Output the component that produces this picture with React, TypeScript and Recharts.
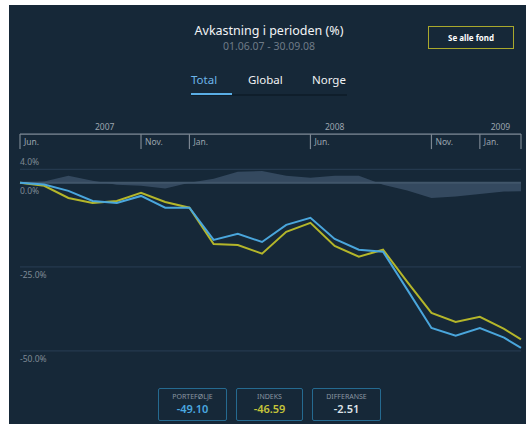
import React from 'react';
import { ComposedChart, Line, Area, XAxis, YAxis, CartesianGrid, ReferenceLine } from 'recharts';

// month index from Jun 2007 (0) to mid-Feb 2009 (20.7)
const monthIdx = [0, 1, 2, 3, 4, 5, 6, 7, 8, 9, 10, 11, 12, 13, 14, 15, 16, 17, 18, 19, 20, 20.7];
const portfolio = [0, -0.5, -2.4, -5.4, -6.0, -3.9, -7.4, -7.4, -17.0, -15.2, -17.6, -12.5, -10.4, -16.7, -19.9, -20.5, -31.8, -43.2, -45.5, -43.2, -46.1, -49.1];
const indeks = [0, -0.9, -4.5, -6.0, -5.4, -3.0, -5.7, -7.4, -18.2, -18.5, -21.1, -14.6, -11.9, -18.8, -22.0, -19.9, -29.5, -38.7, -41.4, -39.9, -43.5, -46.6];
const differanse = [0, 0.4, 2.1, 0.6, -0.6, -0.9, -1.7, 0, 1.2, 3.3, 3.5, 2.1, 1.5, 2.1, 2.1, -0.6, -2.3, -4.5, -4.1, -3.3, -2.6, -2.5];

const timeTicks = [0, 5, 7, 12, 17, 19, 20.7];
const timeLabels = ['Jun.', 'Nov.', 'Jan.', 'Jun.', 'Nov.', 'Jan.', ''];
const years = ['2007', '2008', '2009'];
const yearStart = [0, 7, 19];
const yearEnd = [7, 19, 20.7];
const yTicks = [4, 0, -25, -50];

const tabs = ['Total', 'Global', 'Norge'];
const summaryLabels = ['PORTEFØLJE', 'INDEKS', 'DIFFERANSE'];
const summaryValues = ['-49.10', '-46.59', '-2.51'];
const summaryColors = ['#4aa8e0', '#c4c43a', '#dce2e8'];

const BLUE = '#4aa6dc';
const YELLOW = '#b4b62a';

const data = monthIdx.map((m, i) => ({
  m,
  port: portfolio[i],
  idx: indeks[i],
  diff: differanse[i],
}));

const yearMid = years.map((_, i) => (yearStart[i] + yearEnd[i]) / 2);
const topTicks = [...timeTicks, ...yearMid].sort((a, b) => a - b);

const TimeTick = (props: any) => {
  const { x, y, payload } = props;
  const v = payload.value;
  const yi = yearMid.indexOf(v);
  if (yi >= 0) {
    return (
      <text x={x} y={y - 4} textAnchor="middle" fill="#9aa4ae" fontSize={8.5}>
        {years[yi]}
      </text>
    );
  }
  const i = timeTicks.indexOf(v);
  return (
    <g>
      <line x1={x} x2={x} y1={y} y2={y + 15} stroke="#7b8691" strokeWidth={1.2} />
      <text x={x + 4} y={y + 11} fill="#9aa4ae" fontSize={8.5}>
        {timeLabels[i]}
      </text>
    </g>
  );
};

const PctTick = (props: any) => {
  const { y, payload } = props;
  const v = payload.value;
  return (
    <text x={20} y={v > 0 ? y - 4 : y + 11} fill="#7f8a95" fontSize={8.5} textAnchor="start">
      {v.toFixed(1) + '%'}
    </text>
  );
};

export default function App() {
  return (
    <div style={{ position: 'absolute', left: 0, top: 0, width: 526, height: 424, background: '#fff', fontFamily: '"Noto Sans", sans-serif' }}>
      <div style={{ position: 'absolute', left: 9, top: 5, width: 517, height: 419, background: '#162838' }} />

      <div style={{ position: 'absolute', left: 0, width: 538, top: 22, textAlign: 'center', color: '#f2f4f6', fontSize: 12.5 }}>
        Avkastning i perioden (%)
      </div>
      <div style={{ position: 'absolute', left: 0, width: 538, top: 39, textAlign: 'center', color: '#6f7b87', fontSize: 10.5 }}>
        01.06.07 - 30.09.08
      </div>

      <div style={{ position: 'absolute', left: 428, top: 26, width: 84, height: 21, border: '1.5px solid #a9a82c', color: '#fff', fontSize: 8, fontWeight: 700, display: 'flex', alignItems: 'center', justifyContent: 'center' }}>
        Se alle fond
      </div>

      <div style={{ position: 'absolute', left: 191, top: 72, width: 156, height: 22, borderBottom: '2px solid #0f1e2b' }} />
      <div style={{ position: 'absolute', left: 191, top: 93, width: 41, height: 2, background: '#5aaee6' }} />
      {tabs.map((t, i) => (
        <div key={t} style={{ position: 'absolute', left: [191, 248, 312][i], top: 72, fontSize: 11.5, color: i === 0 ? '#6db6ea' : '#f0f2f4' }}>
          {t}
        </div>
      ))}

      <div style={{ position: 'absolute', left: 0, top: 0 }}>
        <ComposedChart width={526} height={424} data={data} margin={{ top: 114.1, right: 5, bottom: 73.2, left: 20 }}>
          <CartesianGrid vertical={false} stroke="#24394e" strokeWidth={1.3} />
          <XAxis dataKey="m" type="number" domain={[0, 20.7]} hide />
          <XAxis
            xAxisId="top"
            orientation="top"
            dataKey="m"
            type="number"
            domain={[0, 20.7]}
            ticks={topTicks}
            interval={0}
            height={20}
            tickSize={0}
            tickMargin={0}
            tickLine={false}
            axisLine={{ stroke: '#7b8691', strokeWidth: 1.2 }}
            tick={<TimeTick />}
          />
          <YAxis
            type="number"
            domain={[-50, 14.5]}
            ticks={yTicks}
            interval={0}
            mirror
            width={40}
            tickSize={0}
            tickMargin={0}
            axisLine={false}
            tickLine={false}
            tick={<PctTick />}
          />
          <Area dataKey="diff" type="linear" baseValue={0} fill="#34495f" fillOpacity={1} stroke="none" isAnimationActive={false} />
          <ReferenceLine y={0} stroke="#41566a" strokeWidth={2} />
          <Line dataKey="idx" type="linear" stroke={YELLOW} strokeWidth={2} dot={false} isAnimationActive={false} />
          <Line dataKey="port" type="linear" stroke={BLUE} strokeWidth={2} dot={false} isAnimationActive={false} />
        </ComposedChart>
      </div>

      {summaryLabels.map((l, i) => (
        <div
          key={l}
          style={{
            position: 'absolute',
            left: [158, 236, 312][i],
            top: 388,
            width: [70, 68, 70][i] - 3,
            height: 31,
            border: '1.5px solid #256a90',
            borderRadius: 2,
            textAlign: 'center',
          }}
        >
          <div style={{ fontSize: 7, color: '#8a95a0', marginTop: 3, lineHeight: '9px' }}>{l}</div>
          <div style={{ fontSize: 11, fontWeight: 600, color: summaryColors[i], marginTop: 1, lineHeight: '14px' }}>{summaryValues[i]}</div>
        </div>
      ))}
    </div>
  );
}
